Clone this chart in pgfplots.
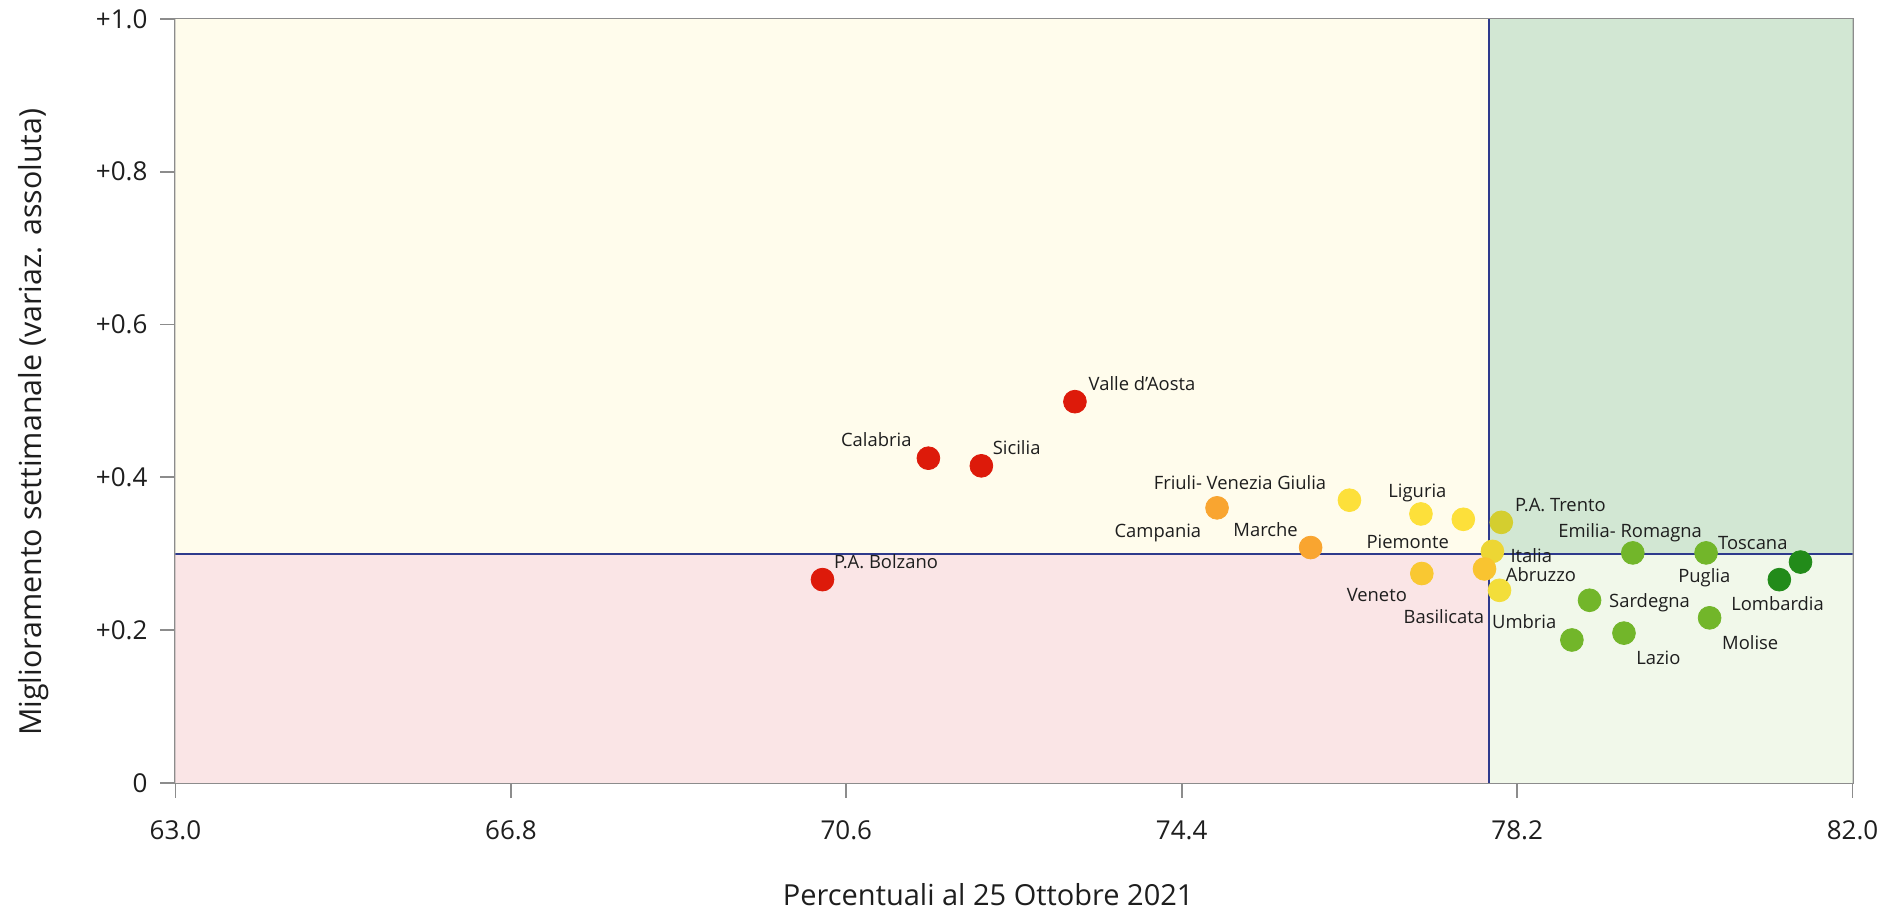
\documentclass[border=0pt]{standalone}
\usepackage{fontspec}
\setmainfont{Open Sans}
\usepackage{pgfplots}
\pgfplotsset{compat=1.18}

\definecolor{bgTL}{HTML}{FFFCEC}
\definecolor{bgBL}{HTML}{FAE5E6}
\definecolor{bgTR}{HTML}{D2E7D3}
\definecolor{bgBR}{HTML}{F1F8EA}
\definecolor{cutline}{HTML}{2E3A8C}
\definecolor{frame}{HTML}{8C8C8C}
\definecolor{cRed}{HTML}{DD1A0A}
\definecolor{cOrange}{HTML}{F9A530}
\definecolor{cYellow}{HTML}{FDE03A}
\definecolor{cVeneto}{HTML}{F9C832}
\definecolor{cAbruzzo}{HTML}{F9C430}
\definecolor{cItalia}{HTML}{EDD634}
\definecolor{cBasil}{HTML}{F3DE3A}
\definecolor{cTrento}{HTML}{D4CE2F}
\definecolor{cGreen}{HTML}{72B62A}
\definecolor{cDkGreen}{HTML}{228B1A}
\definecolor{txt}{HTML}{1E1E1E}

\newcommand{\lbl}{\fontsize{9.2}{10}\selectfont}

\begin{document}
\begin{tikzpicture}
\begin{axis}[
    scale only axis,
    width=838.75pt, height=382pt,
    xmin=63, xmax=82, ymin=0, ymax=1,
    xtick={63,66.8,70.6,74.4,78.2,82},
    xticklabels={63.0,66.8,70.6,74.4,78.2,82.0},
    ytick={0,0.2,0.4,0.6,0.8,1.0},
    yticklabels={0,+0.2,+0.4,+0.6,+0.8,+1.0},
    xtick pos=bottom, ytick pos=left,
    tick align=outside,
    major tick length=7.5pt,
    tick style={draw=frame, line width=0.9pt},
    axis line style={draw=frame, line width=1.2pt},
    ticklabel style={font=\fontsize{13}{14}\selectfont, text=txt},
    xticklabel style={yshift=-8pt},
    yticklabel style={xshift=-3pt},
    xlabel={Percentuali al 25 Ottobre 2021},
    ylabel={Miglioramento settimanale (variaz. assoluta)},
    xlabel style={font=\fontsize{14.5}{16}\selectfont, text=txt,
        at={(axis description cs:0.4846,-0.146)}, anchor=center},
    ylabel style={font=\fontsize{15.2}{16}\selectfont, text=txt,
        at={(axis description cs:-0.0845,0.472)}, anchor=center},
    clip=true,
]
% quadrant backgrounds
\addplot[fill=bgTL, draw=none] coordinates {(63,0.3) (77.88,0.3) (77.88,1) (63,1)};
\addplot[fill=bgBL, draw=none] coordinates {(63,0) (77.88,0) (77.88,0.3) (63,0.3)};
\addplot[fill=bgTR, draw=none] coordinates {(77.88,0.3) (82,0.3) (82,1) (77.88,1)};
\addplot[fill=bgBR, draw=none] coordinates {(77.88,0) (82,0) (82,0.3) (77.88,0.3)};

% regions
\addplot[only marks, mark=*, mark size=5.7pt, color=cRed] coordinates {
    (70.33,0.266) (71.53,0.425) (72.13,0.415) (73.19,0.499)};
\addplot[only marks, mark=*, mark size=5.7pt, color=cOrange] coordinates {
    (74.80,0.360) (75.86,0.308)};
\addplot[only marks, mark=*, mark size=5.7pt, color=cYellow] coordinates {
    (76.30,0.370) (77.11,0.352) (77.59,0.345)};
\addplot[only marks, mark=*, mark size=5.7pt, color=cVeneto] coordinates {(77.12,0.274)};
\addplot[only marks, mark=*, mark size=5.7pt, color=cItalia] coordinates {(77.92,0.303)};
\addplot[only marks, mark=*, mark size=5.7pt, color=cAbruzzo] coordinates {(77.83,0.280)};
\addplot[only marks, mark=*, mark size=5.7pt, color=cBasil] coordinates {(78.00,0.252)};
\addplot[only marks, mark=*, mark size=5.7pt, color=cTrento] coordinates {(78.02,0.341)};
\addplot[only marks, mark=*, mark size=5.7pt, color=cGreen] coordinates {
    (78.82,0.187) (79.02,0.239) (79.41,0.196) (79.51,0.301) (80.34,0.301) (80.38,0.216)};
\addplot[only marks, mark=*, mark size=5.7pt, color=cDkGreen] coordinates {
    (81.17,0.266) (81.41,0.289)};

% thresholds
\addplot[cutline, line width=1.1pt] coordinates {(77.88,0) (77.88,1)};
\addplot[cutline, line width=1.1pt] coordinates {(63,0.3) (82,0.3)};

% labels
\begin{scope}[every node/.style={font=\lbl, text=txt, inner sep=0pt}]
\node at (axis cs:73.95,0.523) {Valle d'Aosta};
\node at (axis cs:70.94,0.449) {Calabria};
\node at (axis cs:72.53,0.439) {Sicilia};
\node at (axis cs:71.05,0.290) {P.A. Bolzano};
\node at (axis cs:75.06,0.393) {Friuli- Venezia Giulia};
\node at (axis cs:74.13,0.327) {Campania};
\node at (axis cs:75.35,0.332) {Marche};
\node at (axis cs:77.07,0.379) {Liguria};
\node at (axis cs:76.96,0.315) {Piemonte};
\node at (axis cs:76.61,0.246) {Veneto};
\node at (axis cs:77.37,0.218) {Basilicata};
\node at (axis cs:78.36,0.297) {Italia};
\node at (axis cs:78.47,0.272) {Abruzzo};
\node at (axis cs:78.28,0.211) {Umbria};
\node at (axis cs:78.69,0.364) {P.A. Trento};
\node at (axis cs:79.48,0.327) {Emilia- Romagna};
\node at (axis cs:80.87,0.314) {Toscana};
\node at (axis cs:79.70,0.236) {Sardegna};
\node at (axis cs:79.80,0.164) {Lazio};
\node at (axis cs:80.32,0.268) {Puglia};
\node at (axis cs:81.15,0.234) {Lombardia};
\node at (axis cs:80.84,0.184) {Molise};
\end{scope}
\end{axis}
\path (current axis.south west) ++(-87.75pt,-65pt);
\path (current axis.north east) ++(16pt,9.5pt);
\end{tikzpicture}
\end{document}
